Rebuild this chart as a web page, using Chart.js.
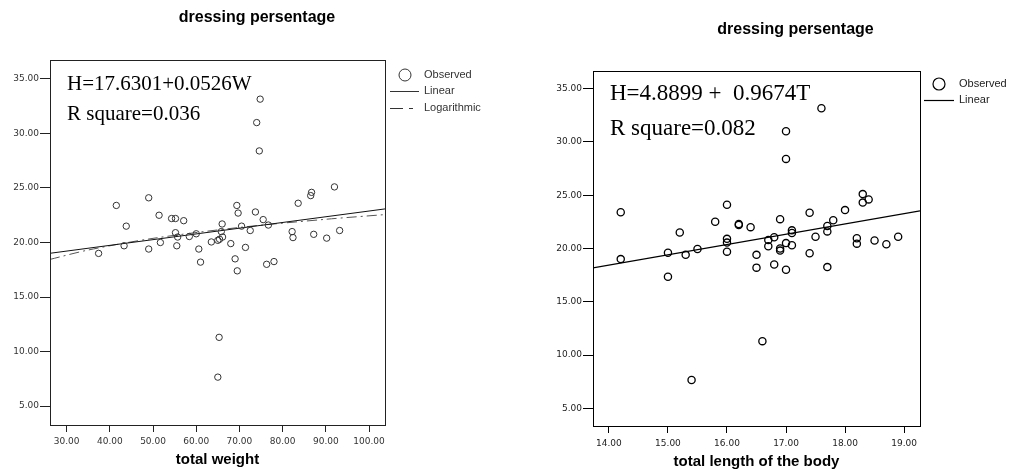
<!DOCTYPE html>
<html>
<head>
<meta charset="utf-8">
<title>dressing persentage</title>
<script src="https://cdn.jsdelivr.net/npm/chart.js@4.4.1/dist/chart.umd.min.js"></script>
<style>
html, body { margin: 0; padding: 0; background: #fff; }
#wrap { position: relative; width: 1010px; height: 470px; overflow: hidden; }
canvas { position: absolute; top: 0; }
#weight-chart { left: 0; }
#length-chart { left: 505px; }
</style>
</head>
<body>
<div id="wrap">
    <canvas id="weight-chart" width="505" height="470"></canvas>
    <canvas id="length-chart" width="505" height="470"></canvas>
</div>
<script>
// observed points
const weightX = [37.4, 41.5, 43.8, 43.3, 49.0, 49.0, 51.4, 51.7, 54.3, 55.2,
                 57.1, 55.2, 55.7, 55.5, 58.4, 60.0, 60.6, 61.0, 63.5, 65.0,
                 65.4, 66.1, 66.0, 65.8, 68.0, 69.4, 69.7, 69.0, 69.5, 70.5,
                 71.4, 72.5, 73.7, 74.0, 74.8, 74.6, 75.5, 76.7, 76.3, 78.0,
                 65.3, 65.0, 82.2, 82.4, 83.6, 86.5, 86.7, 87.2, 90.2, 92.0,
                 93.2];
const weightY = [19.0, 23.4, 21.5, 19.7, 24.1, 19.4, 22.5, 20.0, 22.2, 22.2,
                 22.0, 20.9, 20.5, 19.7, 20.55, 20.8, 19.4, 18.2, 20.05, 20.2,
                 20.3, 20.5, 21.7, 21.0, 19.9, 23.4, 22.7, 18.5, 17.4, 21.5,
                 19.55, 21.1, 22.8, 31.0, 33.15, 28.4, 22.1, 21.6, 18.0, 18.25,
                 11.3, 7.65, 21.0, 20.45, 23.6, 24.3, 24.6, 20.75, 20.4, 25.1,
                 21.1];

const lengthX = [14.2, 14.2, 15.0, 15.0, 15.2, 15.3, 15.4, 15.5, 15.8, 16.0,
                 16.0, 16.0, 16.0, 16.2, 16.2, 16.4, 16.5, 16.5, 16.6, 16.7,
                 16.7, 16.8, 16.8, 16.9, 16.9, 16.9, 17.0, 17.0, 17.0, 17.0,
                 17.1, 17.1, 17.1, 17.4, 17.4, 17.5, 17.6, 17.7, 17.7, 17.7,
                 17.8, 18.0, 18.3, 18.3, 18.4, 18.2, 18.2, 18.5, 18.7, 18.9];
const lengthY = [23.4, 19.0, 19.6, 17.35, 21.5, 19.4, 7.65, 19.95, 22.5, 24.1,
                 20.9, 20.55, 19.7, 22.2, 22.3, 22.0, 19.4, 18.2, 11.3, 20.8,
                 20.2, 21.05, 18.5, 22.75, 20.0, 19.8, 31.0, 28.4, 20.5, 18.0,
                 21.7, 21.45, 20.3, 23.35, 19.55, 21.1, 33.15, 22.1, 21.6, 18.25,
                 22.65, 23.6, 25.1, 24.3, 24.6, 20.95, 20.45, 20.75, 20.4, 21.1];

// fitted curves, values read at the plot edges
const weightLinearX = [26.15, 103.7];
const weightLinearY = [19.01, 23.08];
const weightLogX = [26.15, 35, 50, 70, 90, 103.7];
const weightLogY = [18.45, 19.31, 20.38, 21.38, 22.13, 22.56];
const lengthLinearX = [13.73, 19.27];
const lengthLinearY = [18.17, 23.53];

// axes
const weightTicks = [30, 40, 50, 60, 70, 80, 90, 100];
const lengthTicks = [14, 15, 16, 17, 18, 19];
const percentTicks = [5, 10, 15, 20, 25, 30, 35];

function toPoints(xs, ys) {
    return xs.map((x, i) => ({ x: x, y: ys[i] }));
}

// frame round the plot, title, equation and key
const overlayPlugin = {
    id: "overlay",
    afterDraw(chart, args, opts) {
        const ctx = chart.ctx;
        const a = chart.chartArea;
        ctx.save();

        ctx.strokeStyle = opts.frameColor;
        ctx.lineWidth = 1;
        ctx.strokeRect(Math.round(a.left) + 0.5, Math.round(a.top) + 0.5,
            Math.round(a.right - a.left), Math.round(a.bottom - a.top));

        ctx.fillStyle = "#000";
        ctx.textBaseline = "alphabetic";
        ctx.textAlign = "center";
        ctx.font = "bold 16px 'Liberation Sans', Arial, sans-serif";
        ctx.fillText(opts.title.text, opts.title.x, opts.title.y);

        ctx.textAlign = "left";
        ctx.font = opts.note.size + "px 'Liberation Serif', 'Times New Roman', serif";
        opts.note.lines.forEach((line, i) => {
            ctx.fillText(line, opts.note.x, opts.note.y[i]);
        });

        const key = opts.key;
        ctx.font = "11px 'Liberation Sans', Arial, sans-serif";
        ctx.textBaseline = "middle";
        key.items.forEach((item) => {
            ctx.strokeStyle = key.color;
            ctx.lineWidth = key.lineWidth;
            ctx.setLineDash(item.dash || []);
            ctx.beginPath();
            if (item.kind === "circle") {
                ctx.arc(key.circleX, item.y, 6, 0, Math.PI * 2);
            } else {
                ctx.moveTo(key.lineFrom, item.y + 0.5);
                ctx.lineTo(key.lineTo, item.y + 0.5);
            }
            ctx.stroke();
            ctx.setLineDash([]);
            ctx.fillStyle = key.textColor;
            ctx.fillText(item.label, key.textX, item.y);
        });

        ctx.restore();
    },
};

function makeScales(cfg) {
    return {
        x: {
            type: "linear",
            min: cfg.xMin,
            max: cfg.xMax,
            afterBuildTicks: (s) => { s.ticks = cfg.xTicks.map((v) => ({ value: v })); },
            afterFit: (s) => { s.height = cfg.xHeight; },
            ticks: {
                callback: (v) => Number(v).toFixed(2),
                font: { family: "'DejaVu Sans'", size: 9 },
                color: cfg.tickColor,
                padding: cfg.xPad,
                maxRotation: 0,
                autoSkip: false,
            },
            grid: { drawOnChartArea: false, drawTicks: true, tickLength: 7, tickColor: cfg.lineColor },
            border: { display: true, color: cfg.lineColor, width: 1 },
            title: {
                display: true,
                text: cfg.xTitle,
                color: "#000",
                font: { family: "'Liberation Sans', Arial, sans-serif", size: 15, weight: "bold", lineHeight: 1 },
                padding: { top: 0, bottom: cfg.titlePad },
            },
        },
        y: {
            type: "linear",
            min: cfg.yMin,
            max: cfg.yMax,
            afterBuildTicks: (s) => { s.ticks = percentTicks.map((v) => ({ value: v })); },
            afterFit: (s) => { s.width = cfg.yWidth; },
            ticks: {
                callback: (v) => Number(v).toFixed(2),
                font: { family: "'DejaVu Sans'", size: 9 },
                color: cfg.tickColor,
                padding: 1,
                autoSkip: false,
            },
            grid: { drawOnChartArea: false, drawTicks: true, tickLength: 10, tickColor: cfg.lineColor },
            border: { display: true, color: cfg.lineColor, width: 1 },
        },
    };
}

new Chart(document.getElementById("weight-chart"), {
    type: "scatter",
    data: {
        datasets: [
            {
                label: "Observed",
                data: toPoints(weightX, weightY),
                pointStyle: "circle",
                pointRadius: 3.2,
                borderWidth: 1,
                borderColor: "#333",
                backgroundColor: "rgba(0,0,0,0)",
            },
            {
                label: "Linear",
                data: toPoints(weightLinearX, weightLinearY),
                showLine: true,
                pointRadius: 0,
                borderWidth: 1,
                borderColor: "#111",
            },
            {
                label: "Logarithmic",
                data: toPoints(weightLogX, weightLogY),
                showLine: true,
                pointRadius: 0,
                borderWidth: 1,
                borderColor: "#555",
                borderDash: [10, 4, 2, 4],
                tension: 0.3,
            },
        ],
    },
    options: {
        responsive: false,
        animation: false,
        events: [],
        layout: { padding: { top: 60, right: 120, bottom: 0, left: 0 } },
        scales: makeScales({
            xMin: 26.15, xMax: 103.7, xTicks: weightTicks, xHeight: 45, xPad: 4,
            yMin: 3.26, yMax: 36.74, yWidth: 50,
            xTitle: "total weight", titlePad: 2.5,
            tickColor: "#333", lineColor: "#222",
        }),
        plugins: {
            legend: { display: false },
            tooltip: { enabled: false },
            overlay: {
                frameColor: "#222",
                title: { text: "dressing persentage", x: 257, y: 21.5 },
                note: { lines: ["H=17.6301+0.0526W", "R square=0.036"], x: 67, y: [90, 120], size: 21 },
                key: {
                    circleX: 405, lineFrom: 390, lineTo: 419, textX: 424,
                    color: "#333", textColor: "#333", lineWidth: 1,
                    items: [
                        { kind: "circle", label: "Observed", y: 75 },
                        { kind: "line", label: "Linear", y: 91 },
                        { kind: "line", label: "Logarithmic", y: 108, dash: [13, 6, 4, 40] },
                    ],
                },
            },
        },
    },
    plugins: [overlayPlugin],
});

new Chart(document.getElementById("length-chart"), {
    type: "scatter",
    data: {
        datasets: [
            {
                label: "Observed",
                data: toPoints(lengthX, lengthY),
                pointStyle: "circle",
                pointRadius: 3.6,
                borderWidth: 1.3,
                borderColor: "#000",
                backgroundColor: "rgba(0,0,0,0)",
            },
            {
                label: "Linear",
                data: toPoints(lengthLinearX, lengthLinearY),
                showLine: true,
                pointRadius: 0,
                borderWidth: 1.2,
                borderColor: "#000",
            },
        ],
    },
    options: {
        responsive: false,
        animation: false,
        events: [],
        layout: { padding: { top: 71, right: 90, bottom: 0, left: 0 } },
        scales: makeScales({
            xMin: 13.73, xMax: 19.27, xTicks: lengthTicks, xHeight: 44, xPad: 5,
            yMin: 3.34, yMax: 36.65, yWidth: 88,
            xTitle: "total length of the body", titlePad: 0.5,
            tickColor: "#222", lineColor: "#000",
        }),
        plugins: {
            legend: { display: false },
            tooltip: { enabled: false },
            overlay: {
                frameColor: "#000",
                title: { text: "dressing persentage", x: 290.5, y: 34 },
                note: { lines: ["H=4.8899 +  0.9674T", "R square=0.082"], x: 105, y: [100, 135], size: 23 },
                key: {
                    circleX: 434, lineFrom: 419, lineTo: 449, textX: 454,
                    color: "#000", textColor: "#222", lineWidth: 1.2,
                    items: [
                        { kind: "circle", label: "Observed", y: 84 },
                        { kind: "line", label: "Linear", y: 100 },
                    ],
                },
            },
        },
    },
    plugins: [overlayPlugin],
});
</script>
</body>
</html>
